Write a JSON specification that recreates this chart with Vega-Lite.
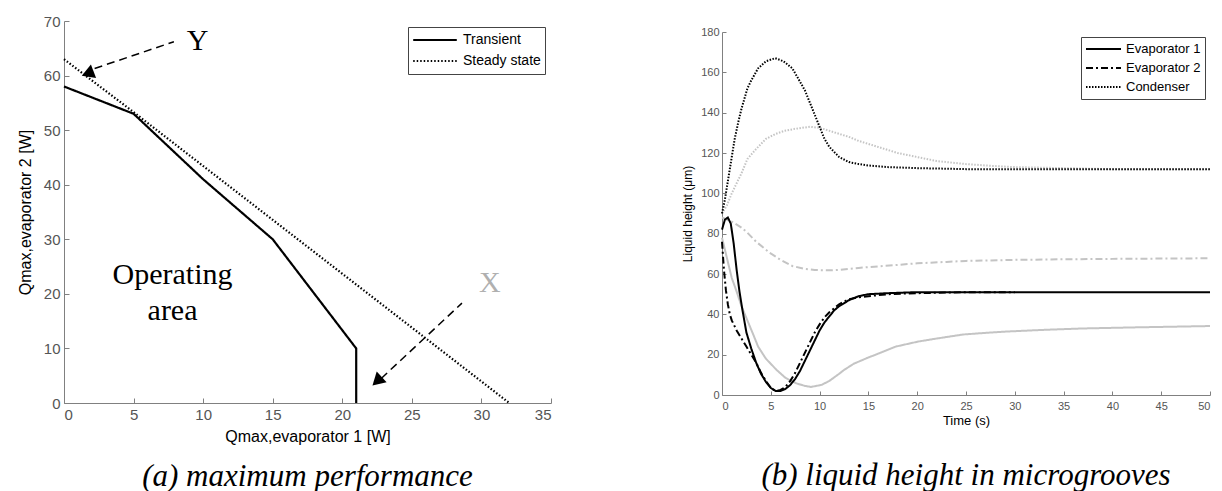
{
  "$schema": "https://vega.github.io/schema/vega-lite/v6.json",
  "background": "white",
  "padding": {"left": 17, "top": 14, "right": 3, "bottom": 0},
  "columns": 2,
  "spacing": 129,
  "resolve": {"scale": {"strokeDash": "independent", "color": "independent"}, "legend": {"strokeDash": "independent", "color": "independent"}},
  "datasets": {
    "curves": [
      {"q1": 0, "q2": 58, "curve": "Transient", "i": 0},
      {"q1": 5, "q2": 53, "curve": "Transient", "i": 1},
      {"q1": 10, "q2": 41, "curve": "Transient", "i": 2},
      {"q1": 15, "q2": 30, "curve": "Transient", "i": 3},
      {"q1": 21, "q2": 10, "curve": "Transient", "i": 4},
      {"q1": 21, "q2": 0, "curve": "Transient", "i": 5},
      {"q1": 0, "q2": 63, "curve": "Steady state", "i": 0},
      {"q1": 5, "q2": 53.3, "curve": "Steady state", "i": 1},
      {"q1": 32, "q2": 0, "curve": "Steady state", "i": 2}
    ],
    "arrowLines": [
      {"q1": 7.9, "q2": 66.2, "arrow": "Y"},
      {"q1": 2.2, "q2": 61.3, "arrow": "Y"},
      {"q1": 28.6, "q2": 18.3, "arrow": "X"},
      {"q1": 22.8, "q2": 4.5, "arrow": "X"}
    ],
    "heights": [
      {"time": 0, "height": 90, "series": "Condenser", "run": "B"},
      {"time": 0.5, "height": 94, "series": "Condenser", "run": "B"},
      {"time": 1, "height": 100, "series": "Condenser", "run": "B"},
      {"time": 1.5, "height": 105, "series": "Condenser", "run": "B"},
      {"time": 2, "height": 110, "series": "Condenser", "run": "B"},
      {"time": 2.6, "height": 117, "series": "Condenser", "run": "B"},
      {"time": 3.5, "height": 122, "series": "Condenser", "run": "B"},
      {"time": 4.5, "height": 127, "series": "Condenser", "run": "B"},
      {"time": 5.5, "height": 129.5, "series": "Condenser", "run": "B"},
      {"time": 6.4, "height": 131, "series": "Condenser", "run": "B"},
      {"time": 7.5, "height": 132, "series": "Condenser", "run": "B"},
      {"time": 9, "height": 133, "series": "Condenser", "run": "B"},
      {"time": 10, "height": 132.5, "series": "Condenser", "run": "B"},
      {"time": 11, "height": 131, "series": "Condenser", "run": "B"},
      {"time": 12, "height": 129.5, "series": "Condenser", "run": "B"},
      {"time": 13, "height": 128, "series": "Condenser", "run": "B"},
      {"time": 14, "height": 126, "series": "Condenser", "run": "B"},
      {"time": 15, "height": 124.5, "series": "Condenser", "run": "B"},
      {"time": 16, "height": 123, "series": "Condenser", "run": "B"},
      {"time": 18, "height": 120, "series": "Condenser", "run": "B"},
      {"time": 20, "height": 118, "series": "Condenser", "run": "B"},
      {"time": 22, "height": 116, "series": "Condenser", "run": "B"},
      {"time": 25, "height": 114.5, "series": "Condenser", "run": "B"},
      {"time": 28, "height": 113.5, "series": "Condenser", "run": "B"},
      {"time": 30, "height": 113, "series": "Condenser", "run": "B"},
      {"time": 35, "height": 112.5, "series": "Condenser", "run": "B"},
      {"time": 40, "height": 112, "series": "Condenser", "run": "B"},
      {"time": 50, "height": 112, "series": "Condenser", "run": "B"},

      {"time": 0, "height": 88, "series": "Evaporator 2", "run": "B"},
      {"time": 1, "height": 86, "series": "Evaporator 2", "run": "B"},
      {"time": 2, "height": 83, "series": "Evaporator 2", "run": "B"},
      {"time": 2.6, "height": 80.5, "series": "Evaporator 2", "run": "B"},
      {"time": 3.5, "height": 76, "series": "Evaporator 2", "run": "B"},
      {"time": 4.9, "height": 70.5, "series": "Evaporator 2", "run": "B"},
      {"time": 6, "height": 67, "series": "Evaporator 2", "run": "B"},
      {"time": 7.2, "height": 64, "series": "Evaporator 2", "run": "B"},
      {"time": 8.5, "height": 62.5, "series": "Evaporator 2", "run": "B"},
      {"time": 9.5, "height": 62, "series": "Evaporator 2", "run": "B"},
      {"time": 11, "height": 61.8, "series": "Evaporator 2", "run": "B"},
      {"time": 12, "height": 62, "series": "Evaporator 2", "run": "B"},
      {"time": 14, "height": 63, "series": "Evaporator 2", "run": "B"},
      {"time": 16, "height": 63.8, "series": "Evaporator 2", "run": "B"},
      {"time": 18, "height": 64.5, "series": "Evaporator 2", "run": "B"},
      {"time": 20, "height": 65.3, "series": "Evaporator 2", "run": "B"},
      {"time": 23, "height": 66, "series": "Evaporator 2", "run": "B"},
      {"time": 25, "height": 66.5, "series": "Evaporator 2", "run": "B"},
      {"time": 30, "height": 67, "series": "Evaporator 2", "run": "B"},
      {"time": 35, "height": 67.3, "series": "Evaporator 2", "run": "B"},
      {"time": 40, "height": 67.5, "series": "Evaporator 2", "run": "B"},
      {"time": 50, "height": 67.8, "series": "Evaporator 2", "run": "B"},

      {"time": 0, "height": 78, "series": "Evaporator 1", "run": "B"},
      {"time": 0.3, "height": 72, "series": "Evaporator 1", "run": "B"},
      {"time": 0.7, "height": 64, "series": "Evaporator 1", "run": "B"},
      {"time": 1, "height": 58, "series": "Evaporator 1", "run": "B"},
      {"time": 1.45, "height": 52, "series": "Evaporator 1", "run": "B"},
      {"time": 2, "height": 44, "series": "Evaporator 1", "run": "B"},
      {"time": 2.6, "height": 37, "series": "Evaporator 1", "run": "B"},
      {"time": 3.2, "height": 30, "series": "Evaporator 1", "run": "B"},
      {"time": 3.7, "height": 24, "series": "Evaporator 1", "run": "B"},
      {"time": 4.5, "height": 18, "series": "Evaporator 1", "run": "B"},
      {"time": 5.6, "height": 12.4, "series": "Evaporator 1", "run": "B"},
      {"time": 6.5, "height": 8.5, "series": "Evaporator 1", "run": "B"},
      {"time": 7.6, "height": 5.8, "series": "Evaporator 1", "run": "B"},
      {"time": 8.5, "height": 4.5, "series": "Evaporator 1", "run": "B"},
      {"time": 9.1, "height": 4, "series": "Evaporator 1", "run": "B"},
      {"time": 10.2, "height": 5, "series": "Evaporator 1", "run": "B"},
      {"time": 11, "height": 7, "series": "Evaporator 1", "run": "B"},
      {"time": 12, "height": 10.5, "series": "Evaporator 1", "run": "B"},
      {"time": 12.5, "height": 12.4, "series": "Evaporator 1", "run": "B"},
      {"time": 13.5, "height": 15.5, "series": "Evaporator 1", "run": "B"},
      {"time": 14.8, "height": 18.2, "series": "Evaporator 1", "run": "B"},
      {"time": 16, "height": 20.5, "series": "Evaporator 1", "run": "B"},
      {"time": 17.8, "height": 24, "series": "Evaporator 1", "run": "B"},
      {"time": 20.1, "height": 26.5, "series": "Evaporator 1", "run": "B"},
      {"time": 22, "height": 28, "series": "Evaporator 1", "run": "B"},
      {"time": 24.7, "height": 30, "series": "Evaporator 1", "run": "B"},
      {"time": 27, "height": 30.8, "series": "Evaporator 1", "run": "B"},
      {"time": 29.3, "height": 31.5, "series": "Evaporator 1", "run": "B"},
      {"time": 33, "height": 32.3, "series": "Evaporator 1", "run": "B"},
      {"time": 37, "height": 33, "series": "Evaporator 1", "run": "B"},
      {"time": 42, "height": 33.5, "series": "Evaporator 1", "run": "B"},
      {"time": 50, "height": 34.2, "series": "Evaporator 1", "run": "B"},

      {"time": 0, "height": 90, "series": "Condenser", "run": "A"},
      {"time": 0.3, "height": 97, "series": "Condenser", "run": "A"},
      {"time": 0.7, "height": 109, "series": "Condenser", "run": "A"},
      {"time": 1, "height": 118, "series": "Condenser", "run": "A"},
      {"time": 1.3, "height": 127, "series": "Condenser", "run": "A"},
      {"time": 1.7, "height": 136, "series": "Condenser", "run": "A"},
      {"time": 2, "height": 142, "series": "Condenser", "run": "A"},
      {"time": 2.6, "height": 152, "series": "Condenser", "run": "A"},
      {"time": 3, "height": 156, "series": "Condenser", "run": "A"},
      {"time": 3.7, "height": 162, "series": "Condenser", "run": "A"},
      {"time": 4.5, "height": 165.5, "series": "Condenser", "run": "A"},
      {"time": 5.45, "height": 167, "series": "Condenser", "run": "A"},
      {"time": 6.3, "height": 165.5, "series": "Condenser", "run": "A"},
      {"time": 7.2, "height": 162, "series": "Condenser", "run": "A"},
      {"time": 7.8, "height": 157, "series": "Condenser", "run": "A"},
      {"time": 8.5, "height": 151, "series": "Condenser", "run": "A"},
      {"time": 9, "height": 145, "series": "Condenser", "run": "A"},
      {"time": 9.5, "height": 139, "series": "Condenser", "run": "A"},
      {"time": 10, "height": 133, "series": "Condenser", "run": "A"},
      {"time": 10.5, "height": 127, "series": "Condenser", "run": "A"},
      {"time": 11, "height": 123, "series": "Condenser", "run": "A"},
      {"time": 12, "height": 118, "series": "Condenser", "run": "A"},
      {"time": 13, "height": 115.5, "series": "Condenser", "run": "A"},
      {"time": 14, "height": 114.5, "series": "Condenser", "run": "A"},
      {"time": 15, "height": 113.8, "series": "Condenser", "run": "A"},
      {"time": 17, "height": 113, "series": "Condenser", "run": "A"},
      {"time": 20, "height": 112.5, "series": "Condenser", "run": "A"},
      {"time": 25, "height": 112, "series": "Condenser", "run": "A"},
      {"time": 30, "height": 112, "series": "Condenser", "run": "A"},
      {"time": 40, "height": 112, "series": "Condenser", "run": "A"},
      {"time": 50, "height": 112, "series": "Condenser", "run": "A"},

      {"time": 0, "height": 76, "series": "Evaporator 2", "run": "A"},
      {"time": 0.2, "height": 62, "series": "Evaporator 2", "run": "A"},
      {"time": 0.4, "height": 52, "series": "Evaporator 2", "run": "A"},
      {"time": 0.6, "height": 45, "series": "Evaporator 2", "run": "A"},
      {"time": 0.8, "height": 40, "series": "Evaporator 2", "run": "A"},
      {"time": 1, "height": 37, "series": "Evaporator 2", "run": "A"},
      {"time": 1.5, "height": 32, "series": "Evaporator 2", "run": "A"},
      {"time": 2, "height": 28, "series": "Evaporator 2", "run": "A"},
      {"time": 2.5, "height": 24, "series": "Evaporator 2", "run": "A"},
      {"time": 3, "height": 20, "series": "Evaporator 2", "run": "A"},
      {"time": 3.5, "height": 16, "series": "Evaporator 2", "run": "A"},
      {"time": 4, "height": 11, "series": "Evaporator 2", "run": "A"},
      {"time": 4.5, "height": 7, "series": "Evaporator 2", "run": "A"},
      {"time": 5, "height": 3.5, "series": "Evaporator 2", "run": "A"},
      {"time": 5.5, "height": 2, "series": "Evaporator 2", "run": "A"},
      {"time": 6, "height": 2.5, "series": "Evaporator 2", "run": "A"},
      {"time": 6.5, "height": 4, "series": "Evaporator 2", "run": "A"},
      {"time": 7, "height": 7, "series": "Evaporator 2", "run": "A"},
      {"time": 7.5, "height": 11, "series": "Evaporator 2", "run": "A"},
      {"time": 8, "height": 16, "series": "Evaporator 2", "run": "A"},
      {"time": 8.5, "height": 21, "series": "Evaporator 2", "run": "A"},
      {"time": 9, "height": 26, "series": "Evaporator 2", "run": "A"},
      {"time": 9.5, "height": 31, "series": "Evaporator 2", "run": "A"},
      {"time": 10, "height": 35, "series": "Evaporator 2", "run": "A"},
      {"time": 10.5, "height": 38.5, "series": "Evaporator 2", "run": "A"},
      {"time": 11, "height": 41, "series": "Evaporator 2", "run": "A"},
      {"time": 12, "height": 45, "series": "Evaporator 2", "run": "A"},
      {"time": 13, "height": 47.5, "series": "Evaporator 2", "run": "A"},
      {"time": 14, "height": 48.5, "series": "Evaporator 2", "run": "A"},
      {"time": 15, "height": 49, "series": "Evaporator 2", "run": "A"},
      {"time": 17, "height": 50, "series": "Evaporator 2", "run": "A"},
      {"time": 20, "height": 50.5, "series": "Evaporator 2", "run": "A"},
      {"time": 25, "height": 51, "series": "Evaporator 2", "run": "A"},
      {"time": 30, "height": 51, "series": "Evaporator 2", "run": "A"},

      {"time": 0, "height": 82, "series": "Evaporator 1", "run": "A"},
      {"time": 0.3, "height": 87, "series": "Evaporator 1", "run": "A"},
      {"time": 0.6, "height": 88, "series": "Evaporator 1", "run": "A"},
      {"time": 0.9, "height": 85, "series": "Evaporator 1", "run": "A"},
      {"time": 1.2, "height": 75, "series": "Evaporator 1", "run": "A"},
      {"time": 1.5, "height": 62, "series": "Evaporator 1", "run": "A"},
      {"time": 1.8, "height": 51, "series": "Evaporator 1", "run": "A"},
      {"time": 2.1, "height": 42, "series": "Evaporator 1", "run": "A"},
      {"time": 2.5, "height": 31, "series": "Evaporator 1", "run": "A"},
      {"time": 3, "height": 23, "series": "Evaporator 1", "run": "A"},
      {"time": 3.5, "height": 16, "series": "Evaporator 1", "run": "A"},
      {"time": 4, "height": 10.5, "series": "Evaporator 1", "run": "A"},
      {"time": 4.5, "height": 6.5, "series": "Evaporator 1", "run": "A"},
      {"time": 5, "height": 3.5, "series": "Evaporator 1", "run": "A"},
      {"time": 5.5, "height": 2, "series": "Evaporator 1", "run": "A"},
      {"time": 6, "height": 2, "series": "Evaporator 1", "run": "A"},
      {"time": 6.5, "height": 3, "series": "Evaporator 1", "run": "A"},
      {"time": 7, "height": 5, "series": "Evaporator 1", "run": "A"},
      {"time": 7.5, "height": 8, "series": "Evaporator 1", "run": "A"},
      {"time": 8, "height": 12, "series": "Evaporator 1", "run": "A"},
      {"time": 8.5, "height": 17, "series": "Evaporator 1", "run": "A"},
      {"time": 9, "height": 22, "series": "Evaporator 1", "run": "A"},
      {"time": 9.5, "height": 27, "series": "Evaporator 1", "run": "A"},
      {"time": 10, "height": 32, "series": "Evaporator 1", "run": "A"},
      {"time": 10.5, "height": 36, "series": "Evaporator 1", "run": "A"},
      {"time": 11, "height": 39, "series": "Evaporator 1", "run": "A"},
      {"time": 11.5, "height": 42, "series": "Evaporator 1", "run": "A"},
      {"time": 12, "height": 44, "series": "Evaporator 1", "run": "A"},
      {"time": 13, "height": 47, "series": "Evaporator 1", "run": "A"},
      {"time": 14, "height": 49, "series": "Evaporator 1", "run": "A"},
      {"time": 15, "height": 50, "series": "Evaporator 1", "run": "A"},
      {"time": 17, "height": 50.5, "series": "Evaporator 1", "run": "A"},
      {"time": 20, "height": 51, "series": "Evaporator 1", "run": "A"},
      {"time": 30, "height": 51, "series": "Evaporator 1", "run": "A"},
      {"time": 40, "height": 51, "series": "Evaporator 1", "run": "A"},
      {"time": 50, "height": 51, "series": "Evaporator 1", "run": "A"}
    ]
  },
  "concat": [
    {
      "width": 487,
      "height": 382,
      "title": {"text": "(a) maximum performance", "orient": "bottom", "anchor": "middle", "offset": 18, "fontSize": 31},
      "layer": [
        {
          "data": {"name": "curves"},
          "mark": {"type": "line", "color": "black", "strokeWidth": 2.2},
          "encoding": {
            "x": {"field": "q1", "type": "quantitative", "scale": {"domain": [0, 35], "nice": false},
                  "axis": {"values": [0, 5, 10, 15, 20, 25, 30, 35], "title": "Qmax,evaporator 1 [W]", "labelFontSize": 15, "titleFontSize": 16, "labelPadding": 9, "titlePadding": 6}},
            "y": {"field": "q2", "type": "quantitative", "scale": {"domain": [0, 70], "nice": false},
                  "axis": {"values": [0, 10, 20, 30, 40, 50, 60, 70], "title": "Qmax,evaporator 2 [W]", "labelFontSize": 15, "titleFontSize": 16, "labelPadding": 9, "titlePadding": 10}},
            "strokeDash": {"field": "curve", "type": "nominal",
                  "scale": {"domain": ["Transient", "Steady state"], "range": [[1, 0], [1.5, 2]]},
                  "legend": {"orient": "top-right", "offset": 6, "labelFontSize": 14, "symbolSize": 1900, "clipHeight": 18, "rowPadding": 3, "padding": 4, "labelOffset": 5}},
            "order": {"field": "i", "type": "quantitative"}
          }
        },
        {
          "data": {"name": "arrowLines"},
          "mark": {"type": "line", "color": "black", "strokeWidth": 1.5, "strokeDash": [8, 5]},
          "encoding": {
            "x": {"field": "q1", "type": "quantitative"},
            "y": {"field": "q2", "type": "quantitative"},
            "detail": {"field": "arrow", "type": "nominal"}
          }
        },
        {
          "data": {"values": [{"q1": 1.7, "q2": 60.4}]},
          "mark": {"type": "point", "shape": "triangle-up", "filled": true, "color": "black", "opacity": 1, "size": 210, "angle": 249},
          "encoding": {"x": {"field": "q1", "type": "quantitative"}, "y": {"field": "q2", "type": "quantitative"}}
        },
        {
          "data": {"values": [{"q1": 22.5, "q2": 4.0}]},
          "mark": {"type": "point", "shape": "triangle-up", "filled": true, "color": "black", "opacity": 1, "size": 210, "angle": 227},
          "encoding": {"x": {"field": "q1", "type": "quantitative"}, "y": {"field": "q2", "type": "quantitative"}}
        },
        {
          "data": {"values": [
            {"q1": 9.6, "q2": 66.3, "label": "Y"},
            {"q1": 7.8, "q2": 23.4, "label": "Operating"},
            {"q1": 7.8, "q2": 16.9, "label": "area"}
          ]},
          "mark": {"type": "text", "font": "Liberation Serif", "fontSize": 30, "color": "black", "baseline": "middle"},
          "encoding": {"x": {"field": "q1", "type": "quantitative"}, "y": {"field": "q2", "type": "quantitative"}, "text": {"field": "label"}}
        },
        {
          "data": {"values": [{"q1": 30.6, "q2": 22, "label": "X"}]},
          "mark": {"type": "text", "font": "Liberation Serif", "fontSize": 30, "color": "#b0b0b0", "baseline": "middle"},
          "encoding": {"x": {"field": "q1", "type": "quantitative"}, "y": {"field": "q2", "type": "quantitative"}, "text": {"field": "label"}}
        }
      ]
    },
    {
      "spacing": 4,
      "resolve": {"scale": {"strokeDash": "independent", "color": "independent"}, "legend": {"strokeDash": "independent", "color": "independent"}},
      "vconcat": [
        {
          "width": 488,
          "height": 1,
          "data": {"values": []},
          "mark": "point"
        },
        {
          "width": 488,
          "height": 363,
          "title": {"text": "(b) liquid height in microgrooves", "orient": "bottom", "anchor": "middle", "offset": 34, "fontSize": 31},
          "data": {"name": "heights"},
          "mark": {"type": "line", "strokeWidth": 2},
          "encoding": {
            "x": {"field": "time", "type": "quantitative", "scale": {"domain": [0, 50], "nice": false},
                  "axis": {"values": [0, 5, 10, 15, 20, 25, 30, 35, 40, 45, 50], "title": "Time (s)", "labelFontSize": 11, "titleFontSize": 13, "labelPadding": 9, "titlePadding": 3, "tickSize": -4}},
            "y": {"field": "height", "type": "quantitative", "scale": {"domain": [0, 180], "nice": false},
                  "axis": {"values": [0, 20, 40, 60, 80, 100, 120, 140, 160, 180], "title": "Liquid height (μm)", "labelFontSize": 11, "titleFontSize": 12, "labelPadding": 7, "titlePadding": 6, "tickSize": -4}},
            "color": {"field": "run", "type": "nominal", "scale": {"domain": ["A", "B"], "range": ["#000000", "#c4c4c4"]}, "legend": null},
            "strokeDash": {"field": "series", "type": "nominal",
                  "scale": {"domain": ["Evaporator 1", "Evaporator 2", "Condenser"], "range": [[1, 0], [7, 3, 2, 3], [1.5, 1.5]]},
                  "legend": {"orient": "top-right", "offset": 5, "labelFontSize": 13, "symbolSize": 1225, "clipHeight": 16, "rowPadding": 3, "padding": 4, "labelOffset": 4}}
          }
        }
      ]
    }
  ],
  "config": {
    "view": {"stroke": null},
    "font": "Liberation Sans",
    "axis": {"grid": false, "domainColor": "#808080", "tickColor": "#808080", "labelColor": "#555555", "titleColor": "#000000", "titleFontWeight": "normal", "labelFont": "Liberation Sans", "titleFont": "Liberation Sans", "tickSize": -5},
    "legend": {"title": null, "strokeColor": "#444444", "fillColor": "white", "symbolType": "stroke", "symbolStrokeColor": "black", "symbolStrokeWidth": 2, "labelFont": "Liberation Sans", "labelColor": "#000000", "labelLimit": 300},
    "title": {"font": "Liberation Serif", "fontStyle": "italic", "fontWeight": "normal", "fontSize": 30, "color": "#000000"}
  }
}
